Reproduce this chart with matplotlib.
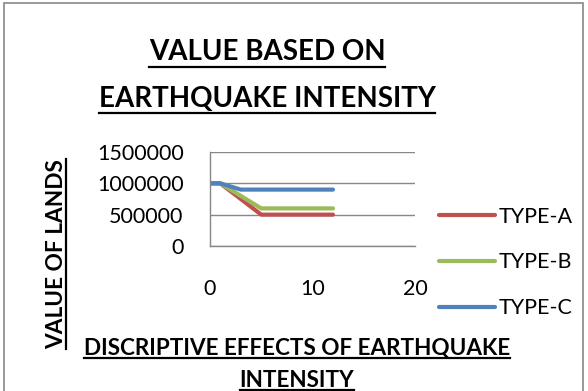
import matplotlib
matplotlib.use("Agg")
import matplotlib.pyplot as plt
from matplotlib.lines import Line2D
from matplotlib.patches import Rectangle

plt.rcParams['font.family'] = ['Lato', 'DejaVu Sans']

# Datos
intensity = [0, 1, 3, 5, 12]
type_a = [1000000, 1000000, 750000, 500000, 500000]
type_b = [1000000, 1000000, 800000, 600000, 600000]
type_c = [1000000, 1000000, 900000, 900000, 900000]
series = [("TYPE-A", type_a, "#C0504D"),
          ("TYPE-B", type_b, "#9BBB59"),
          ("TYPE-C", type_c, "#4F81BD")]
yticks = [0, 500000, 1000000, 1500000]
xticks = [0, 10, 20]

W, H = 588, 391
fig = plt.figure(figsize=(W / 100, H / 100), dpi=100)

def fx(px):
    return px / W

def fy(py):
    return 1 - py / H

ax = fig.add_axes([fx(210), fy(246), fx(415) - fx(210), fy(152) - fy(246)])
for name, vals, col in series:
    ax.plot(intensity, vals, color=col, lw=3.0, label=name,
            solid_capstyle='round', solid_joinstyle='round')

ax.set_xlim(0, 20)
ax.set_ylim(0, 1500000)
ax.set_xticks(xticks)
ax.set_yticks(yticks)
ax.set_yticklabels([str(v) for v in yticks])
ax.tick_params(length=0, labelsize=15.5)
ax.tick_params(axis='y', pad=19)
ax.tick_params(axis='x', pad=24)
ax.grid(axis='y', color='#878787', lw=1.0)
ax.set_axisbelow(True)
for s in ['top', 'right']:
    ax.spines[s].set_visible(False)
for s in ['left', 'bottom']:
    ax.spines[s].set_color('#878787')
    ax.spines[s].set_linewidth(1.0)

leg = fig.legend(loc='upper left', bbox_to_anchor=(fx(430), fy(198)),
                 frameon=False, fontsize=15.5, handlelength=2.6,
                 handletextpad=0.2, labelspacing=1.2, borderaxespad=0)

# Titulos subrayados
texts = []
texts.append(fig.text(fx(267), fy(60), "VALUE BASED ON", fontsize=20,
                      fontweight='bold', ha='center', va='baseline'))
texts.append(fig.text(fx(267), fy(107), "EARTHQUAKE INTENSITY", fontsize=20,
                      fontweight='bold', ha='center', va='baseline'))
texts.append(fig.text(fx(297), fy(355), "DISCRIPTIVE EFFECTS OF EARTHQUAKE",
                      fontsize=16.2, fontweight='bold', ha='center', va='baseline'))
texts.append(fig.text(fx(297), fy(387), "INTENSITY", fontsize=16.2,
                      fontweight='bold', ha='center', va='baseline'))
ylab = fig.text(fx(63), fy(254), "VALUE OF LANDS", fontsize=16.3, fontweight='bold',
                rotation=90, rotation_mode='anchor', ha='center', va='baseline')

fig.canvas.draw()
r = fig.canvas.get_renderer()
offs = [7, 6, 3, 3]
bases = [60, 107, 355, 387]
for t, off, b in zip(texts, offs, bases):
    bb = t.get_window_extent(r)
    y = fy(b + off)
    fig.add_artist(Line2D([bb.x0 / W, bb.x1 / W], [y, y], color='black', lw=1.6))
bb = ylab.get_window_extent(r)
fig.add_artist(Line2D([fx(66), fx(66)], [bb.y0 / H, bb.y1 / H], color='black', lw=1.6))

# Borde del grafico
fig.add_artist(Rectangle((fx(4), -0.01), fx(583) - fx(4), fy(3) + 0.01, fill=False,
                         edgecolor='#878787', lw=1.2))

fig.savefig("out.png", dpi=100)
